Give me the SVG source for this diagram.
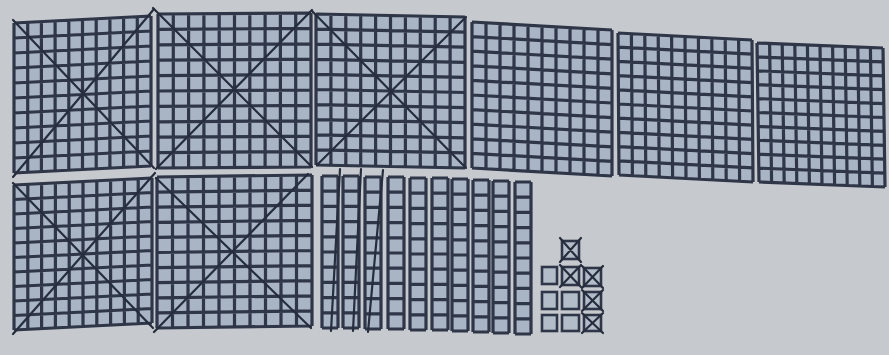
<svg xmlns="http://www.w3.org/2000/svg" xmlns:xlink="http://www.w3.org/1999/xlink" width="889" height="355" viewBox="0 0 889 355">
<style>
.bg{fill:#c6c9ce}
.cell{fill:#a9b5c5}
.ln{fill:none;stroke:#2e3648;stroke-width:3.2;vector-effect:non-scaling-stroke}
.frame{fill:none;stroke:#2e3648;stroke-width:3}
.x{fill:none;stroke:#262d3c;stroke-width:2.2;stroke-linecap:round}
.u{fill:#b3bdca;stroke:#2e3648;stroke-width:2.6}
</style>
<defs>
<g id="hundred">
<rect class="cell" x="0" y="0" width="100" height="100"/>
<path class="ln" d="M0 0H100M0 10H100M0 20H100M0 30H100M0 40H100M0 50H100M0 60H100M0 70H100M0 80H100M0 90H100M0 100H100M0 0V100M10 0V100M20 0V100M30 0V100M40 0V100M50 0V100M60 0V100M70 0V100M80 0V100M90 0V100M100 0V100"/>
</g>
<g id="ten">
<rect class="cell" x="0" y="0" width="16" height="152"/>
<path class="ln" d="M0 0H16M0 15.2H16M0 30.4H16M0 45.6H16M0 60.8H16M0 76H16M0 91.2H16M0 106.4H16M0 121.6H16M0 136.8H16M0 152H16M0 0V152M16 0V152"/>
</g>
</defs>
<rect class="bg" x="0" y="0" width="889" height="355"/>
<g id="hundred-1">
<use xlink:href="#hundred" href="#hundred" transform="matrix(1.37,-0.07,0,1.5,14,23)"/>
<path class="x" d="M13 20L154 168M13 177L154 9"/>
</g>
<g id="hundred-2">
<use xlink:href="#hundred" href="#hundred" transform="matrix(1.53,-0.01,0,1.54,158,14)"/>
<path class="x" d="M153 8L312 167M156 169L312 10"/>
</g>
<g id="hundred-3">
<use xlink:href="#hundred" href="#hundred" transform="matrix(1.49,0.03,0,1.51,316,14)"/>
<path class="x" d="M312 11L466 168M466 17L317 165"/>
</g>
<g id="hundred-4">
<use xlink:href="#hundred" href="#hundred" transform="matrix(1.40,0.08,0,1.46,472,22)"/>
</g>
<g id="hundred-5">
<use xlink:href="#hundred" href="#hundred" transform="matrix(1.34,0.07,0.01,1.42,618,33)"/>
</g>
<g id="hundred-6">
<use xlink:href="#hundred" href="#hundred" transform="matrix(1.26,0.05,0.02,1.39,757,43)"/>
</g>
<g id="hundred-7">
<use xlink:href="#hundred" href="#hundred" transform="matrix(1.38,-0.07,0,1.45,14,185)"/>
<path class="x" d="M13 183L153 328M13 334L155 173"/>
</g>
<g id="hundred-8">
<use xlink:href="#hundred" href="#hundred" transform="matrix(1.55,-0.02,0,1.51,157,177)"/>
<path class="x" d="M156 178L311 328M308 174L154 332"/>
</g>
<g id="tens">
<use xlink:href="#ten" href="#ten" x="322" y="176"/>
<use xlink:href="#ten" href="#ten" x="343" y="176"/>
<use xlink:href="#ten" href="#ten" x="365" y="177"/>
<use xlink:href="#ten" href="#ten" x="388" y="177"/>
<use xlink:href="#ten" href="#ten" x="410" y="178"/>
<use xlink:href="#ten" href="#ten" x="432" y="178"/>
<use xlink:href="#ten" href="#ten" x="452" y="179"/>
<use xlink:href="#ten" href="#ten" x="473" y="180"/>
<use xlink:href="#ten" href="#ten" x="493" y="181"/>
<use xlink:href="#ten" href="#ten" x="515" y="182"/>
<path class="x" d="M340 169L331 331M361 169L353 331M383 170L368 332"/>
</g>
<g id="ones">
<rect class="u" x="542" y="267" width="15" height="17"/>
<rect class="u" x="542" y="292" width="15" height="17"/>
<rect class="u" x="542" y="315" width="15" height="16"/>
<rect class="u" x="562" y="241" width="17" height="18"/>
<rect class="u" x="562" y="267" width="17" height="18"/>
<rect class="u" x="562" y="292" width="17" height="17"/>
<rect class="u" x="562" y="315" width="17" height="16"/>
<rect class="u" x="584" y="268" width="17" height="18"/>
<rect class="u" x="584" y="292" width="17" height="17"/>
<rect class="u" x="584" y="315" width="17" height="16"/>
<path class="x" d="M560 238L581 262M581 238L560 262M560 265L581 287M581 265L560 287M582 266L603 288M603 266L582 288M582 290L603 311M603 290L582 311M582 313L603 333M603 313L582 333"/>
</g>
</svg>
